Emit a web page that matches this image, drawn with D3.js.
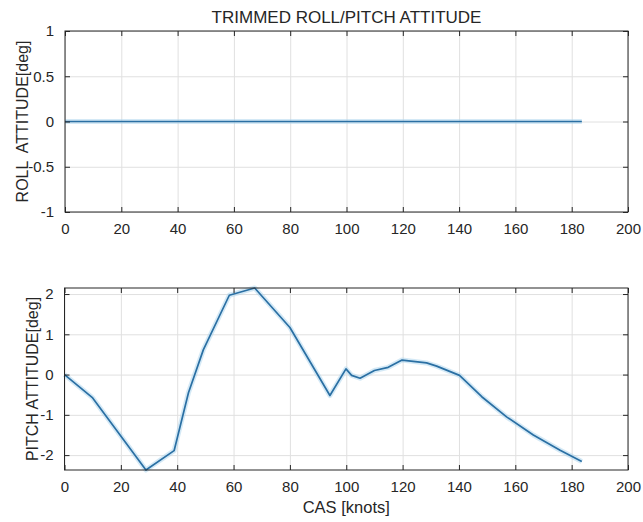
<!DOCTYPE html>
<html>
<head>
<meta charset="utf-8">
<script src="https://cdn.jsdelivr.net/npm/d3@7"></script>
<style>
  html, body { margin: 0; padding: 0; background: #fff; }
  svg { display: block; }
  text { font-family: "Liberation Sans", Arial, Helvetica, sans-serif; fill: #262626; white-space: pre; }
</style>
</head>
<body>
<svg id="chart" width="643" height="522"></svg>
<script>
// Calibrated airspeed samples [knots]
const casKnots = [0, 10, 28.9, 38.9, 44, 49.3, 58.5, 67.5, 80, 94.2, 99.9, 101.9, 104.9, 110, 114.9, 119.8, 128.5, 132.1, 140.2, 148.1, 156.9, 166.4, 175.9, 183.6];
// Trimmed roll attitude [deg]
const rollDeg = [0, 0, 0, 0, 0, 0, 0, 0, 0, 0, 0, 0, 0, 0, 0, 0, 0, 0, 0, 0, 0, 0, 0, 0];
// Trimmed pitch attitude [deg]
const pitchDeg = [0, -0.58, -2.37, -1.89, -0.45, 0.62, 1.97, 2.15, 1.17, -0.52, 0.14, -0.02, -0.09, 0.10, 0.18, 0.36, 0.29, 0.21, -0.02, -0.55, -1.05, -1.50, -1.88, -2.16];

const xTicks = [0, 20, 40, 60, 80, 100, 120, 140, 160, 180, 200];
const rollTicks = [-1, -0.5, 0, 0.5, 1];
const pitchTicks = [-2, -1, 0, 1, 2];

const chartTitle = "TRIMMED ROLL/PITCH ATTITUDE";
const rollLabel = "ROLL  ATTITUDE[deg]";
const pitchLabel = "PITCH ATTITUDE[deg]";
const xLabel = "CAS [knots]";

const svg = d3.select("#chart");
const axisColor = "#262626";
const gridColor = "#e0e0e0";
const lineColor = "#2a6fa3";
const plainFmt = d => String(d);

function panel(box, xs, ys, yTickVals, series, yLabel, yLabelX, showXLabel) {
  const x = d3.scaleLinear().domain(xs).range([box.x0, box.x1]);
  const y = d3.scaleLinear().domain(ys).range([box.y1, box.y0]);
  const g = svg.append("g");
  const w = box.x1 - box.x0, h = box.y1 - box.y0;

  // background grid
  const gx = g.append("g").attr("transform", `translate(0,${box.y1})`)
    .call(d3.axisBottom(x).tickValues(xTicks).tickSize(-h).tickFormat(""));
  const gy = g.append("g").attr("transform", `translate(${box.x0},0)`)
    .call(d3.axisLeft(y).tickValues(yTickVals).tickSize(-w).tickFormat(""));
  [gx, gy].forEach(a => {
    a.select(".domain").remove();
    a.selectAll("line").attr("stroke", gridColor).attr("stroke-width", 1);
  });

  // data line with soft halo
  const line = d3.line().x(d => x(d[0])).y(d => y(d[1]));
  const pts = casKnots.map((v, i) => [v, series[i]]);
  g.append("path").datum(pts).attr("d", line)
    .attr("fill", "none").attr("stroke", "#a9d3ee").attr("stroke-opacity", 0.5)
    .attr("stroke-width", 5).attr("stroke-linejoin", "round");
  g.append("path").datum(pts).attr("d", line)
    .attr("fill", "none").attr("stroke", lineColor)
    .attr("stroke-width", 1.7).attr("stroke-linejoin", "round");

  // axes with inward ticks on all four sides
  const ab = g.append("g").attr("transform", `translate(0,${box.y1})`)
    .call(d3.axisBottom(x).tickValues(xTicks).tickSizeInner(-5).tickSizeOuter(0).tickPadding(11).tickFormat(plainFmt));
  const at = g.append("g").attr("transform", `translate(0,${box.y0})`)
    .call(d3.axisTop(x).tickValues(xTicks).tickSizeInner(-5).tickSizeOuter(0).tickFormat(""));
  const al = g.append("g").attr("transform", `translate(${box.x0},0)`)
    .call(d3.axisLeft(y).tickValues(yTickVals).tickSizeInner(-5).tickSizeOuter(0).tickPadding(11).tickFormat(plainFmt));
  const ar = g.append("g").attr("transform", `translate(${box.x1},0)`)
    .call(d3.axisRight(y).tickValues(yTickVals).tickSizeInner(-5).tickSizeOuter(0).tickFormat(""));
  [ab, at, al, ar].forEach(a => {
    a.select(".domain").remove();
    a.selectAll("line").attr("stroke", axisColor).attr("stroke-width", 1);
    a.selectAll("text").attr("font-size", 15).attr("fill", axisColor)
      .style("font-family", "'Liberation Sans', Arial, sans-serif");
  });

  // box
  g.append("rect").attr("x", box.x0).attr("y", box.y0).attr("width", w).attr("height", h)
    .attr("fill", "none").attr("stroke", axisColor).attr("stroke-width", 1);

  g.append("text")
    .attr("transform", `translate(${yLabelX},${(box.y0 + box.y1) / 2}) rotate(-90)`)
    .attr("text-anchor", "middle").attr("dominant-baseline", "central")
    .attr("font-size", 16).text(yLabel);

  if (showXLabel) {
    g.append("text").attr("x", (box.x0 + box.x1) / 2).attr("y", box.y1 + 43)
      .attr("text-anchor", "middle").attr("font-size", 16.5).text(xLabel);
  }
  return g;
}

const topBox = { x0: 65, x1: 628, y0: 31, y1: 212 };
const botBox = { x0: 64.5, x1: 628, y0: 288, y1: 470 };

panel(topBox, [0, 200], [-1, 1], rollTicks, rollDeg, rollLabel, 22, false);
panel(botBox, [0, 200], d3.extent(pitchDeg), pitchTicks, pitchDeg, pitchLabel, 32, true);

svg.append("text").attr("x", (topBox.x0 + topBox.x1) / 2).attr("y", 23)
  .attr("text-anchor", "middle").attr("font-size", 17).text(chartTitle);
</script>
</body>
</html>
